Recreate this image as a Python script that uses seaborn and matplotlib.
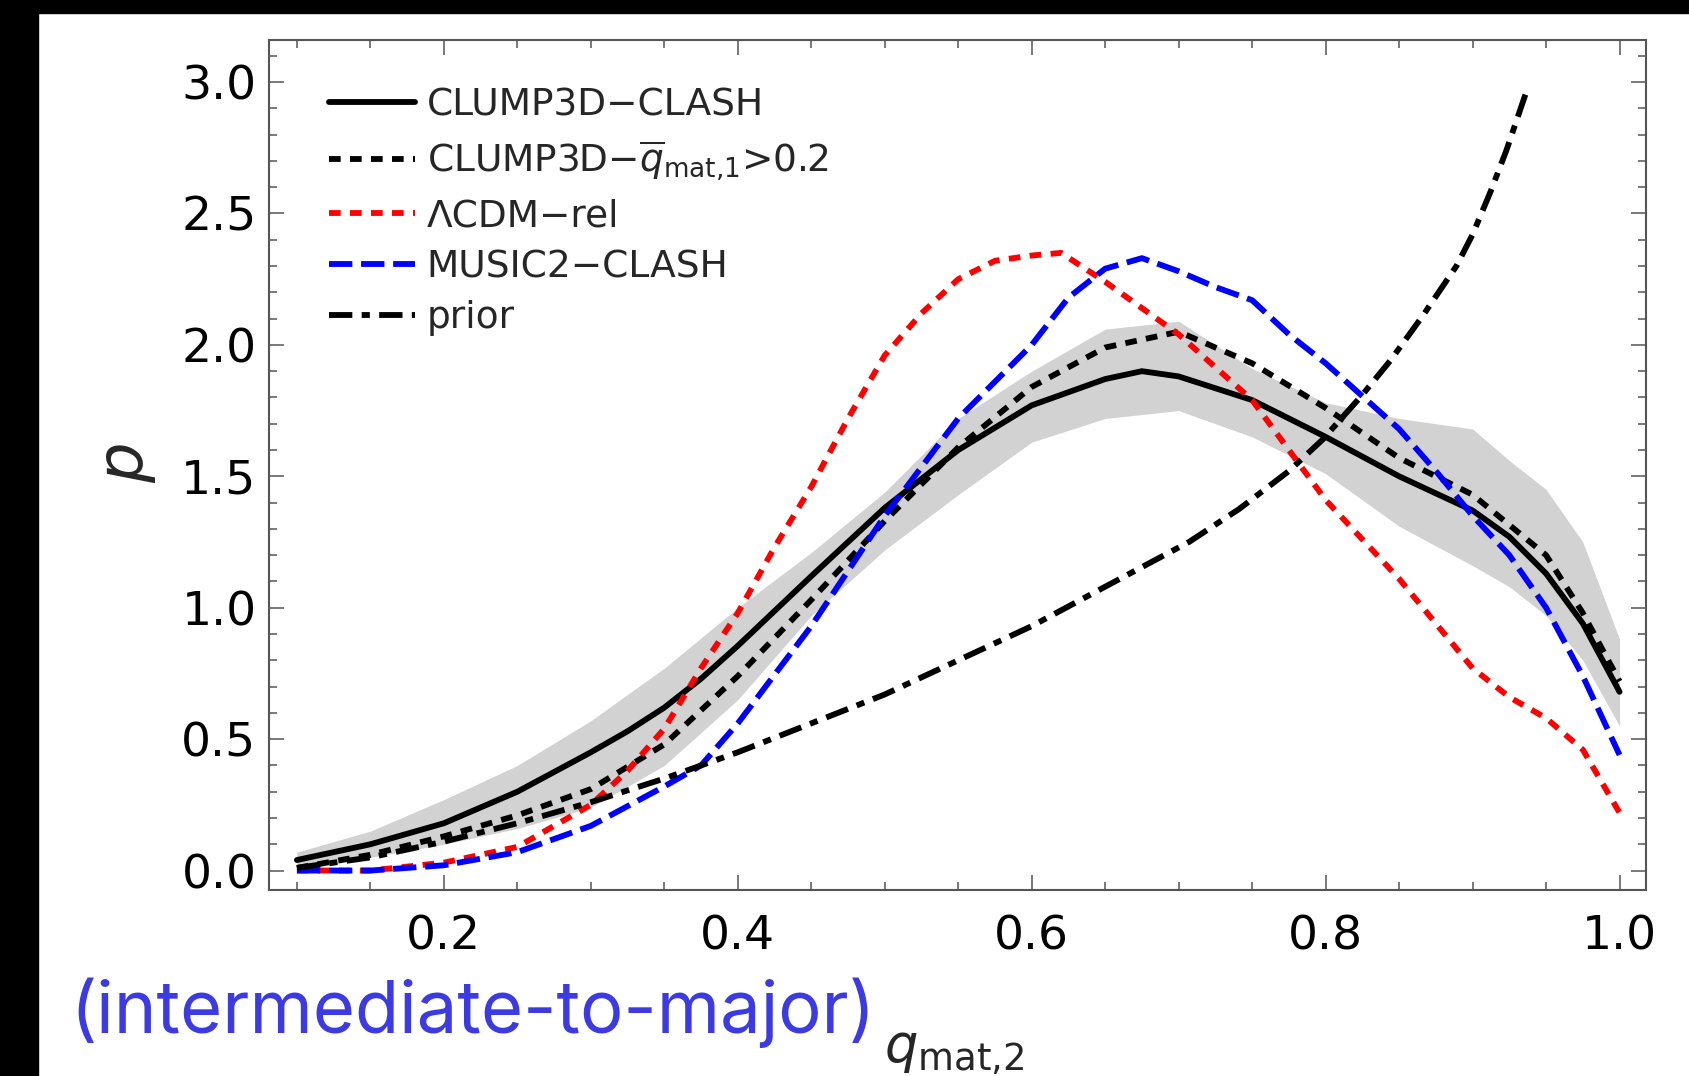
import numpy as np
import pandas as pd
import matplotlib
matplotlib.use("Agg")
import matplotlib.pyplot as plt
import seaborn as sns
from matplotlib.patches import Rectangle
from matplotlib.ticker import MultipleLocator

# Curvas (q_mat,2 vs p)
x_solid = [0.10, 0.15, 0.20, 0.25, 0.30, 0.325, 0.35, 0.375, 0.40, 0.45, 0.50, 0.55, 0.60,
           0.65, 0.675, 0.70, 0.75, 0.80, 0.85, 0.90, 0.925, 0.95, 0.975, 1.00]
y_solid = [0.04, 0.10, 0.18, 0.30, 0.45, 0.53, 0.62, 0.73, 0.855, 1.12, 1.38, 1.60, 1.77,
           1.87, 1.90, 1.88, 1.79, 1.65, 1.50, 1.37, 1.27, 1.13, 0.94, 0.68]

x_band = [0.10, 0.15, 0.20, 0.25, 0.30, 0.35, 0.40, 0.45, 0.50, 0.55, 0.60, 0.65, 0.70,
          0.75, 0.80, 0.85, 0.90, 0.925, 0.95, 0.975, 1.00]
band_lo = [0.00, 0.05, 0.10, 0.16, 0.24, 0.40, 0.65, 0.97, 1.22, 1.43, 1.63, 1.72, 1.75,
           1.65, 1.51, 1.31, 1.16, 1.08, 0.97, 0.80, 0.55]
band_hi = [0.07, 0.15, 0.27, 0.40, 0.57, 0.77, 1.00, 1.21, 1.44, 1.72, 1.90, 2.06, 2.09,
           1.91, 1.78, 1.72, 1.68, 1.56, 1.45, 1.25, 0.88]

x_dot = [0.10, 0.15, 0.20, 0.25, 0.30, 0.35, 0.40, 0.45, 0.50, 0.55, 0.60, 0.65, 0.70,
         0.75, 0.80, 0.85, 0.90, 0.95, 0.975, 1.00]
y_dot = [0.01, 0.06, 0.13, 0.21, 0.31, 0.48, 0.74, 1.03, 1.33, 1.61, 1.84, 1.99, 2.05,
         1.93, 1.76, 1.57, 1.43, 1.20, 0.98, 0.72]

x_lcdm = [0.10, 0.15, 0.20, 0.25, 0.30, 0.325, 0.35, 0.375, 0.40, 0.425, 0.45, 0.475, 0.50,
          0.525, 0.55, 0.575, 0.60, 0.62, 0.65, 0.70, 0.75, 0.80, 0.85, 0.90, 0.925, 0.95,
          0.975, 1.00]
y_lcdm = [0.00, 0.00, 0.03, 0.09, 0.25, 0.38, 0.54, 0.77, 0.98, 1.23, 1.46, 1.72, 1.96,
          2.12, 2.25, 2.32, 2.34, 2.35, 2.24, 2.04, 1.79, 1.41, 1.11, 0.77, 0.66, 0.58,
          0.46, 0.22]

x_music = [0.10, 0.15, 0.20, 0.25, 0.30, 0.35, 0.375, 0.40, 0.45, 0.50, 0.55, 0.60, 0.625,
           0.65, 0.675, 0.70, 0.725, 0.75, 0.775, 0.80, 0.85, 0.875, 0.90, 0.925, 0.95,
           0.975, 1.00]
y_music = [0.00, 0.00, 0.02, 0.07, 0.17, 0.32, 0.40, 0.56, 0.93, 1.35, 1.72, 2.00, 2.18,
           2.29, 2.33, 2.28, 2.22, 2.17, 2.04, 1.93, 1.68, 1.52, 1.35, 1.20, 1.00,
           0.74, 0.44]

x_prior = [0.10, 0.15, 0.20, 0.25, 0.30, 0.35, 0.40, 0.45, 0.50, 0.55, 0.60, 0.65, 0.707,
           0.741, 0.775, 0.798, 0.825, 0.844, 0.866, 0.889, 0.90, 0.912, 0.923, 0.937]
y_prior = [0.01, 0.05, 0.11, 0.18, 0.26, 0.35, 0.45, 0.56, 0.67, 0.80, 0.93, 1.08, 1.25,
           1.375, 1.52, 1.64, 1.81, 1.94, 2.11, 2.30, 2.42, 2.58, 2.74, 2.97]

LABELS = ["CLUMP3D\u2212CLASH",
          r"CLUMP3D$-\overline{q}_{\mathrm{mat{,}1}}$>0.2",
          "\u039bCDM\u2212rel",
          "MUSIC2\u2212CLASH",
          "prior"]

sns.set_theme(style="ticks")
plt.rcParams["font.family"] = ["DejaVu Sans"]
plt.rcParams["mathtext.fontset"] = "dejavusans"

fig = plt.figure(figsize=(16.9, 10.76), dpi=100)
ax = fig.add_axes([269 / 1690, 1 - 890 / 1076, (1646 - 269) / 1690, (890 - 40) / 1076])

# moldura preta da captura
fig.patches.append(Rectangle((0, 1 - 13 / 1076), 1, 13 / 1076, transform=fig.transFigure,
                             color="black", zorder=0))
fig.patches.append(Rectangle((0, 0), 38 / 1690, 1, transform=fig.transFigure,
                             color="black", zorder=0))

ax.fill_between(x_band, band_lo, band_hi, color="#d2d2d2", lw=0)

lw = 4.2
df_solid = pd.DataFrame({"x": x_solid, "y": y_solid})
df_dot = pd.DataFrame({"x": x_dot, "y": y_dot})
df_lcdm = pd.DataFrame({"x": x_lcdm, "y": y_lcdm})
df_music = pd.DataFrame({"x": x_music, "y": y_music})
df_prior = pd.DataFrame({"x": x_prior, "y": y_prior})

sns.lineplot(data=df_solid, x="x", y="y", ax=ax, color="black", lw=lw, label=LABELS[0])
sns.lineplot(data=df_dot, x="x", y="y", ax=ax, color="black", lw=lw,
             linestyle=(0, (2.0, 1.6)), label=LABELS[1])
sns.lineplot(data=df_lcdm, x="x", y="y", ax=ax, color="#ff0000", lw=lw,
             linestyle=(0, (2.0, 1.6)), label=LABELS[2])
sns.lineplot(data=df_music, x="x", y="y", ax=ax, color="#0000ff", lw=lw,
             linestyle=(0, (4.0, 1.5)), label=LABELS[3])
sns.lineplot(data=df_prior, x="x", y="y", ax=ax, color="black", lw=lw,
             linestyle=(0, (4.0, 1.6, 1.4, 1.6)), label=LABELS[4])
for ln in ax.get_lines():
    ln.set_dash_capstyle("butt")
    ln.set_solid_joinstyle("round")

ax.set_xlim(0.081, 1.018)
ax.set_ylim(-0.074, 3.16)
ax.xaxis.set_major_locator(MultipleLocator(0.2))
ax.xaxis.set_minor_locator(MultipleLocator(0.05))
ax.yaxis.set_major_locator(MultipleLocator(0.5))
ax.yaxis.set_minor_locator(MultipleLocator(0.1))
ax.set_xticks([0.2, 0.4, 0.6, 0.8, 1.0])
ax.set_xticklabels(["0.2", "0.4", "0.6", "0.8", "1.0"])
ax.tick_params(which="both", direction="in", top=True, right=True, color="#555555",
               width=1.1, labelsize=34, labelcolor="black")
ax.tick_params(which="major", length=11)
ax.tick_params(which="minor", length=6)
ax.tick_params(axis="x", pad=18)
ax.tick_params(axis="y", pad=9)
for sp in ax.spines.values():
    sp.set_color("#555555")
    sp.set_linewidth(1.5)
ax.set_xlabel("")
ax.set_ylabel("")

leg = ax.legend(loc="upper left", bbox_to_anchor=(0.0436, 0.944), frameon=False,
                fontsize=27, handlelength=2.3, handletextpad=0.3, labelspacing=0.40,
                borderpad=0, borderaxespad=0)

fig.text(127 / 1690, 1 - 463 / 1076, "$p$", rotation=90, fontsize=46,
         ha="center", va="center")
fig.text(884 / 1690, 1 - 1062 / 1076, r"$q_{\mathrm{mat{,}2}}$", fontsize=38,
         ha="left", va="baseline")
fig.text(70 / 1690, 1 - 1033 / 1076, "(intermediate-to-major)", fontsize=52,
         family=["Inter", "DejaVu Sans"], color="#3c3be3", ha="left", va="baseline")

fig.savefig("out.png", dpi=100, facecolor="white")
